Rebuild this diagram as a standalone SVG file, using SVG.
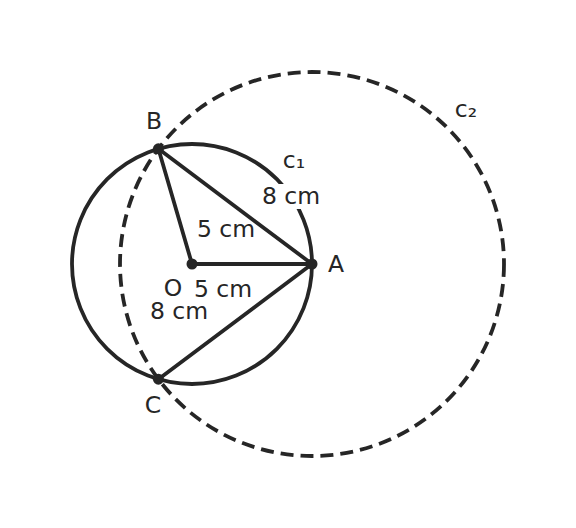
<svg xmlns="http://www.w3.org/2000/svg" width="576" height="528" viewBox="0 0 576 528">
<style>
.ln{stroke:#262626;stroke-width:3.8;fill:none;stroke-linecap:round}
.dash{stroke:#262626;stroke-width:3.8;fill:none;stroke-dasharray:13 7}
.pt{fill:#262626}
text{font-family:"DejaVu Sans","Liberation Sans",sans-serif;font-size:23.5px;fill:#262626}
.bg{fill:#ffffff}
</style>
<rect width="576" height="528" fill="#ffffff"/>
<g id="circles">
<circle id="c1" class="ln" cx="192" cy="264" r="120"/>
<circle id="c2" class="dash" cx="312" cy="264" r="192"/>
</g>
<g id="connectors">
<line class="ln" x1="192" y1="264" x2="312" y2="264"/>
<line class="ln" x1="192" y1="264" x2="158.4" y2="148.8"/>
<line class="ln" x1="158.4" y1="148.8" x2="312" y2="264"/>
<line class="ln" x1="158.4" y1="379.2" x2="312" y2="264"/>
</g>
<g id="labels">
<rect class="bg" x="262" y="184" width="59" height="25"/>
<text x="291" y="204" text-anchor="middle">8 cm</text>
<text x="226" y="237" text-anchor="middle">5 cm</text>
<text x="223" y="297" text-anchor="middle">5 cm</text>
<text x="179" y="319" text-anchor="middle">8 cm</text>
<text x="294" y="168" text-anchor="middle">c₁</text>
<text x="466" y="117" text-anchor="middle">c₂</text>
</g>
<g id="O"><circle class="pt" cx="192" cy="264" r="5.5"/><text x="173" y="296" text-anchor="middle">O</text></g>
<g id="A"><circle class="pt" cx="312" cy="264" r="5.5"/><text x="336" y="272" text-anchor="middle">A</text></g>
<g id="B"><circle class="pt" cx="158.4" cy="148.8" r="5.5"/><text x="154" y="129" text-anchor="middle">B</text></g>
<g id="C"><circle class="pt" cx="158.4" cy="379.2" r="5.5"/><text x="153" y="413" text-anchor="middle">C</text></g>
</svg>
